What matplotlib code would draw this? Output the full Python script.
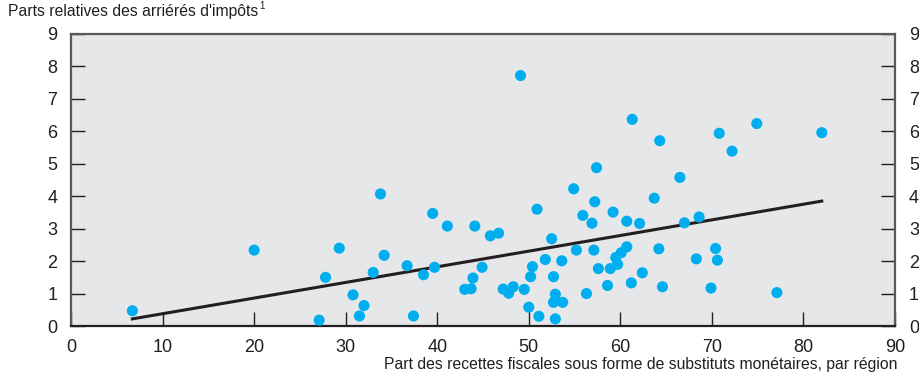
import matplotlib
matplotlib.use("Agg")
import matplotlib.pyplot as plt

# share of tax revenue in money substitutes (x) vs relative tax arrears (y)
share_subst = [6.7, 20.0, 27.1, 27.8, 29.3, 30.8, 31.5, 32.0, 33.0, 33.8,
               34.2, 36.7, 37.4, 38.5, 39.5, 39.7, 41.1, 43.0, 43.7, 43.9,
               44.1, 44.9, 45.8, 46.7, 47.2, 47.8, 48.3, 49.1, 49.5, 50.0,
               50.2, 50.4, 50.9, 51.1, 51.8, 52.5, 52.7, 52.9, 52.7, 52.9,
               53.6, 53.7, 54.9, 55.2, 55.9, 56.3, 56.9, 57.1, 57.2, 57.4,
               57.6, 58.6, 58.9, 59.2, 59.7, 59.5, 60.1, 60.7, 60.7, 61.2,
               61.3, 62.1, 62.4, 63.7, 64.3, 64.2, 64.6, 66.5, 67.0, 68.3,
               68.6, 69.9, 70.4, 70.6, 70.8, 72.2, 74.9, 77.1, 82.0]
arrears = [0.47, 2.34, 0.18, 1.50, 2.40, 0.96, 0.31, 0.63, 1.65, 4.07,
           2.18, 1.86, 0.31, 1.58, 3.47, 1.81, 3.08, 1.13, 1.15, 1.48,
           3.08, 1.81, 2.78, 2.86, 1.14, 1.01, 1.21, 7.72, 1.13, 0.58,
           1.52, 1.83, 3.60, 0.30, 2.05, 2.69, 1.52, 0.98, 0.73, 0.22,
           2.01, 0.73, 4.23, 2.34, 3.41, 1.00, 3.17, 2.34, 3.83, 4.88,
           1.77, 1.25, 1.77, 3.51, 1.90, 2.11, 2.26, 2.44, 3.23, 1.33,
           6.37, 3.16, 1.64, 3.94, 5.71, 2.38, 1.21, 4.58, 3.18, 2.07,
           3.36, 1.17, 2.39, 2.03, 5.94, 5.39, 6.24, 1.03, 5.96]

# fitted line endpoints
trend_x = [6.7, 82.0]
trend_y = [0.22, 3.85]

x_ticks = list(range(0, 91, 10))
y_ticks = list(range(0, 10))

BG = "#e6e7e8"
DOT = "#00aeef"
TXT = "#231f20"
TICK_FONT = ["Liberation Sans Narrow", "Liberation Sans"]

fig = plt.figure(figsize=(9.19, 3.74), dpi=100)
ax = fig.add_axes([0.0773, 0.1283, 0.8966, 0.7808])
ax.set_facecolor(BG)

ax.scatter(share_subst, arrears, s=64, color=DOT, edgecolors="none", zorder=3)
ax.plot(trend_x, trend_y, color="#231f20", lw=2.2, zorder=2)

ax.set_xlim(0, 90)
ax.set_ylim(0, 9)
ax.set_xticks(x_ticks)
ax.set_yticks(y_ticks)

for side in ["top", "left", "right"]:
    ax.spines[side].set_color("#58595b")
    ax.spines[side].set_linewidth(1.6)
ax.spines["bottom"].set_color("#231f20")
ax.spines["bottom"].set_linewidth(1.6)

ax.tick_params(axis="x", direction="in", length=10, width=1.0,
               color="#231f20", pad=9, labelsize=13, labelcolor=TXT)
ax.tick_params(axis="y", direction="in", length=10, width=1.0,
               color="#231f20", pad=10, labelsize=13, labelcolor=TXT,
               left=True, right=True, labelleft=True, labelright=True)
for lab in ax.get_xticklabels() + ax.get_yticklabels():
    lab.set_family(TICK_FONT)
for t in ax.yaxis.get_major_ticks():
    t.label2.set_family(TICK_FONT)

title = fig.text(0.009, 0.968, "Parts relatives des arriérés d'impôts",
                 ha="left", va="center", fontsize=11.3, color=TXT,
                 family="Liberation Sans")
fig.canvas.draw()
bb = title.get_window_extent().transformed(fig.transFigure.inverted())
fig.text(bb.x1 + 0.001, 0.985, "1", ha="left", va="center", fontsize=7,
         color=TXT, family="Liberation Sans")

fig.text(0.977, 0.025,
         "Part des recettes fiscales sous forme de substituts monétaires, par région",
         ha="right", va="center", fontsize=11.3, color=TXT,
         family="Liberation Sans")

fig.savefig("out.png", dpi=100)
